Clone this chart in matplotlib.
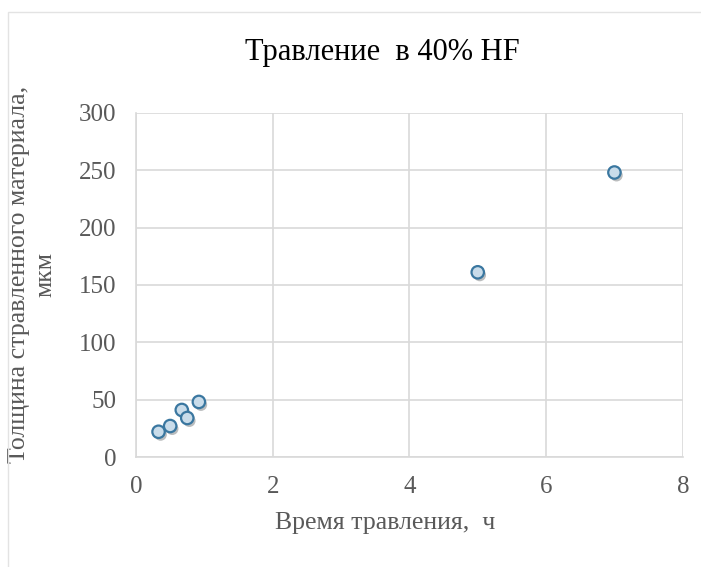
import matplotlib.pyplot as plt
import matplotlib.patheffects as pe
from matplotlib.patches import Rectangle

# Время травления, ч и толщина стравленного слоя, мкм
time_h = [0.33, 0.5, 0.67, 0.75, 0.92, 5, 7]
depth_um = [22, 27, 41, 34, 48, 161, 248]

plt.rcParams['font.family'] = ['Liberation Serif', 'DejaVu Serif']

fig = plt.figure(figsize=(7.01, 5.67), dpi=100)
ax = fig.add_axes([0.194, 0.194, 0.780, 0.607])

# рамка области диаграммы
fig.patches.append(Rectangle((8 / 701, -0.01), 1.0, 1 - 12 / 567 + 0.01,
                             transform=fig.transFigure, fill=False,
                             edgecolor='#e3e3e3', linewidth=1))

ax.scatter(time_h, depth_um, s=80, facecolor='#c9dcea', edgecolor='#3a77a0',
           linewidth=1.6, zorder=3,
           path_effects=[pe.SimplePatchShadow(offset=(1.5, -2), alpha=0.35),
                         pe.Normal()])

ax.set_xlim(0, 8)
ax.set_ylim(0, 300)
ax.set_xticks([0, 2, 4, 6, 8])
ax.set_yticks(range(0, 301, 50))
ax.grid(True, color='#d9d9d9', linewidth=1.2)
ax.set_axisbelow(True)
for s in ['top', 'right']:
    ax.spines[s].set_visible(False)
for s in ['left', 'bottom']:
    ax.spines[s].set_color('#d9d9d9')
    ax.spines[s].set_linewidth(1.2)
ax.tick_params(length=0, labelsize=18, labelcolor='#595959')
ax.tick_params(axis='x', pad=14)
ax.tick_params(axis='y', pad=14)

# заголовок по центру области диаграммы (она шире видимой части)
fig.text(0.546, 0.908, 'Травление  в 40% HF', fontsize=22, color='black',
         ha='center', va='center')
ax.set_xlabel('Время травления,  ч', fontsize=18.5, color='#595959')
ax.xaxis.set_label_coords(0.455, -0.16)
ax.set_ylabel('Толщина стравленного материала,\nмкм', fontsize=18.5,
              color='#595959', linespacing=1.3)
ax.yaxis.set_label_coords(-0.145, 0.53)

fig.savefig('out.png', dpi=100)
